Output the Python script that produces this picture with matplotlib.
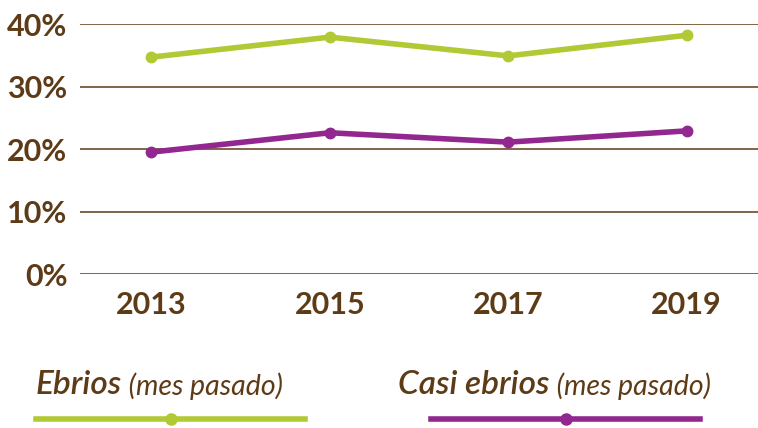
import matplotlib.pyplot as plt
from matplotlib.lines import Line2D

years = ["2013", "2015", "2017", "2019"]
ebrios = [34.7, 37.9, 34.9, 38.2]
casi_ebrios = [19.5, 22.6, 21.1, 22.9]
y_ticks = [0, 10, 20, 30, 40]

GREEN = "#b2c935"
PURPLE = "#92278f"
BROWN = "#5e3b17"

plt.rcParams['font.family'] = ['Lato', 'DejaVu Sans']

fig = plt.figure(figsize=(7.58, 4.28), dpi=100)
ax = fig.add_axes([0.1055, 0.3598, 0.8945, 0.5841])

x = range(len(years))
ax.plot(x, ebrios, color=GREEN, lw=4, marker="o", ms=7.5, solid_capstyle="round")
ax.plot(x, casi_ebrios, color=PURPLE, lw=4, marker="o", ms=7.5, solid_capstyle="round")

ax.set_xlim(-0.4, 3.4)
ax.set_ylim(0, 40)
ax.set_yticks(y_ticks)
ax.set_yticklabels([f"{v}%" for v in y_ticks])
ax.set_xticks(list(x))
ax.set_xticklabels(years)
ax.grid(axis="y", color=BROWN, lw=1.1)
ax.set_axisbelow(True)
for s in ax.spines.values():
    s.set_visible(False)
ax.tick_params(length=0, labelcolor=BROWN, labelsize=22)
ax.tick_params(axis="y", pad=9)
ax.tick_params(axis="x", pad=12)
for lab in ax.get_xticklabels() + ax.get_yticklabels():
    lab.set_fontweight("bold")

# legend drawn under the chart
def legend_entry(tx, x0, x1, name, color):
    t1 = fig.text(tx / 758, 1 - 394 / 428, name, color=BROWN, fontsize=24,
                  style="italic", fontweight="semibold", va="baseline")
    ax.annotate(" (mes pasado)", xy=(1, 0), xycoords=t1, color=BROWN,
                fontsize=20.5, style="italic", va="bottom", ha="left")
    yl = 1 - 419 / 428
    fig.add_artist(Line2D([x0 / 758, x1 / 758], [yl, yl], color=color, lw=4,
                          transform=fig.transFigure))
    xm = (x0 + x1) / 2 / 758
    fig.add_artist(Line2D([xm], [yl], color=color, marker="o", ms=8,
                          transform=fig.transFigure))

legend_entry(36, 36, 305, "Ebrios", GREEN)
legend_entry(398, 431, 700, "Casi ebrios", PURPLE)

fig.savefig("out.png", dpi=100)
